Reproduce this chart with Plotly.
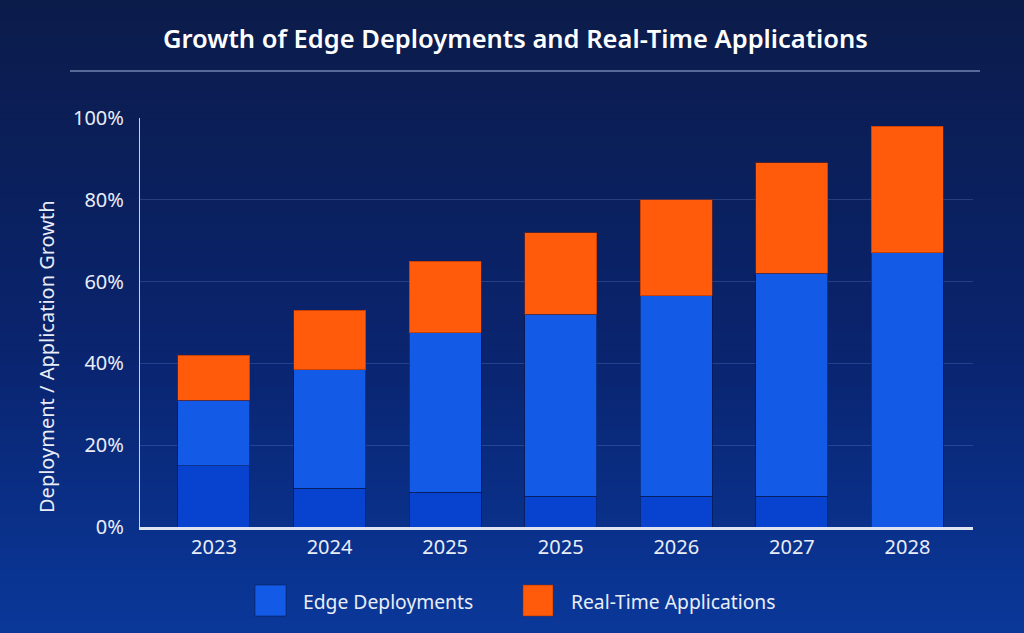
import plotly.graph_objects as go

# ---- data ----
year_labels = ["2023", "2024", "2025", "2025", "2026", "2027", "2028"]
edge_base = [15, 9.5, 8.5, 7.5, 7.5, 7.5, 0]          # darker lower part of Edge Deployments
edge_upper = [16, 29, 39, 44.5, 49, 54.5, 67]         # upper part of Edge Deployments
realtime = [11, 14.5, 17.5, 20, 23.5, 27, 31]         # Real-Time Applications
y_ticks = [0, 20, 40, 60, 80, 100]
y_tick_labels = ["0%", "20%", "40%", "60%", "80%", "100%"]

# ---- geometry helpers (plot area in px) ----
W, H = 1024, 633
L, R, T, B = 140, 973, 118, 527
PW, PH = R - L, B - T


def px_x(px):
    return (px - L) / PW


def px_y(py):
    return (B - py) / PH


FONT = "Noto Sans"
TXT = "#e9edf7"

xs = list(range(len(year_labels)))

fig = go.Figure()
line = dict(color="rgba(5,20,70,0.55)", width=1)
fig.add_trace(go.Bar(x=xs, y=edge_base, marker=dict(color="#0743CF", line=line),
                     width=0.623, showlegend=False, name="Edge Deployments"))
fig.add_trace(go.Bar(x=xs, y=edge_upper, marker=dict(color="#135BE6", line=line),
                     width=0.623, showlegend=False, name="Edge Deployments"))
fig.add_trace(go.Bar(x=xs, y=realtime, marker=dict(color="#FF5B0B", line=dict(color="rgba(150,40,0,0.5)", width=1)),
                     width=0.623, showlegend=False, name="Real-Time Applications"))

# ---- background gradient ----
def lerp(a, b, t):
    return tuple(round(a[i] + (b[i] - a[i]) * t) for i in range(3))

top_c = (11, 27, 74)
mid_c = (10, 36, 110)
bot_c = (10, 56, 154)
shapes = []
n = 90
for i in range(n):
    y0 = H * i / n
    y1 = H * (i + 1) / n + 0.8
    t = (i + 0.5) / n
    if t < 0.55:
        c = lerp(top_c, mid_c, t / 0.55)
    else:
        c = lerp(mid_c, bot_c, (t - 0.55) / 0.45)
    shapes.append(dict(type="rect", xref="paper", yref="paper",
                       x0=px_x(-5), x1=px_x(W + 5), y0=px_y(y1), y1=px_y(y0),
                       fillcolor="rgb(%d,%d,%d)" % c, line=dict(width=0), layer="below"))

# separator under title
shapes.append(dict(type="line", xref="paper", yref="paper",
                   x0=px_x(70), x1=px_x(980), y0=px_y(71), y1=px_y(71),
                   line=dict(color="rgba(150,165,210,0.75)", width=1.5)))

# legend squares
shapes.append(dict(type="rect", xref="paper", yref="paper",
                   x0=px_x(255), x1=px_x(286), y0=px_y(616), y1=px_y(585),
                   fillcolor="#135BE6", line=dict(color="rgba(5,20,70,0.5)", width=1)))
shapes.append(dict(type="rect", xref="paper", yref="paper",
                   x0=px_x(523), x1=px_x(553), y0=px_y(616), y1=px_y(585),
                   fillcolor="#FF5B0B", line=dict(color="rgba(150,40,0,0.5)", width=1)))

annotations = [
    dict(text="Growth of Edge Deployments and Real-Time Applications", xref="paper", yref="paper",
         x=px_x(515), y=px_y(38), showarrow=False, xanchor="center", yanchor="middle",
         font=dict(family=FONT, size=25.5, color="#ffffff", weight=600)),
    dict(text="Deployment / Application Growth", xref="paper", yref="paper",
         x=px_x(46), y=px_y(357), showarrow=False, textangle=-90, xanchor="center", yanchor="middle",
         font=dict(family=FONT, size=20, color=TXT)),
    dict(text="Edge Deployments", xref="paper", yref="paper",
         x=px_x(301), y=px_y(601), showarrow=False, xanchor="left", yanchor="middle",
         font=dict(family=FONT, size=19.3, color=TXT)),
    dict(text="Real-Time Applications", xref="paper", yref="paper",
         x=px_x(569), y=px_y(601), showarrow=False, xanchor="left", yanchor="middle",
         font=dict(family=FONT, size=19.3, color=TXT)),
]

fig.update_layout(
    width=W, height=H,
    margin=dict(l=L, r=W - R, t=T, b=H - B, pad=0),
    paper_bgcolor="rgba(0,0,0,0)", plot_bgcolor="rgba(0,0,0,0)",
    barmode="stack", bargap=0.38,
    shapes=shapes, annotations=annotations, showlegend=False,
    font=dict(family=FONT, color=TXT),
    xaxis=dict(range=[-0.64, 6.567], tickvals=xs, ticktext=year_labels,
               showgrid=False, zeroline=False, showline=True,
               linecolor="#dfe4f0", linewidth=2.5, ticks="",
               tickfont=dict(family=FONT, size=20, color=TXT)),
    yaxis=dict(range=[0, 100], tickvals=y_ticks, ticktext=y_tick_labels,
               showgrid=True, gridcolor="rgba(120,145,215,0.26)", gridwidth=1,
               zeroline=False, showline=True, linecolor="rgba(220,226,240,0.9)", linewidth=1.2,
               ticks="", ticklabelstandoff=11,
               tickfont=dict(family=FONT, size=20, color=TXT)),
)

fig.write_html(
    "out.html",
    config={"displayModeBar": False},
    post_script="document.body.style.margin='0';document.body.style.padding='0';"
                "document.body.style.overflow='hidden';document.body.style.background='#0b1b4a';",
)
